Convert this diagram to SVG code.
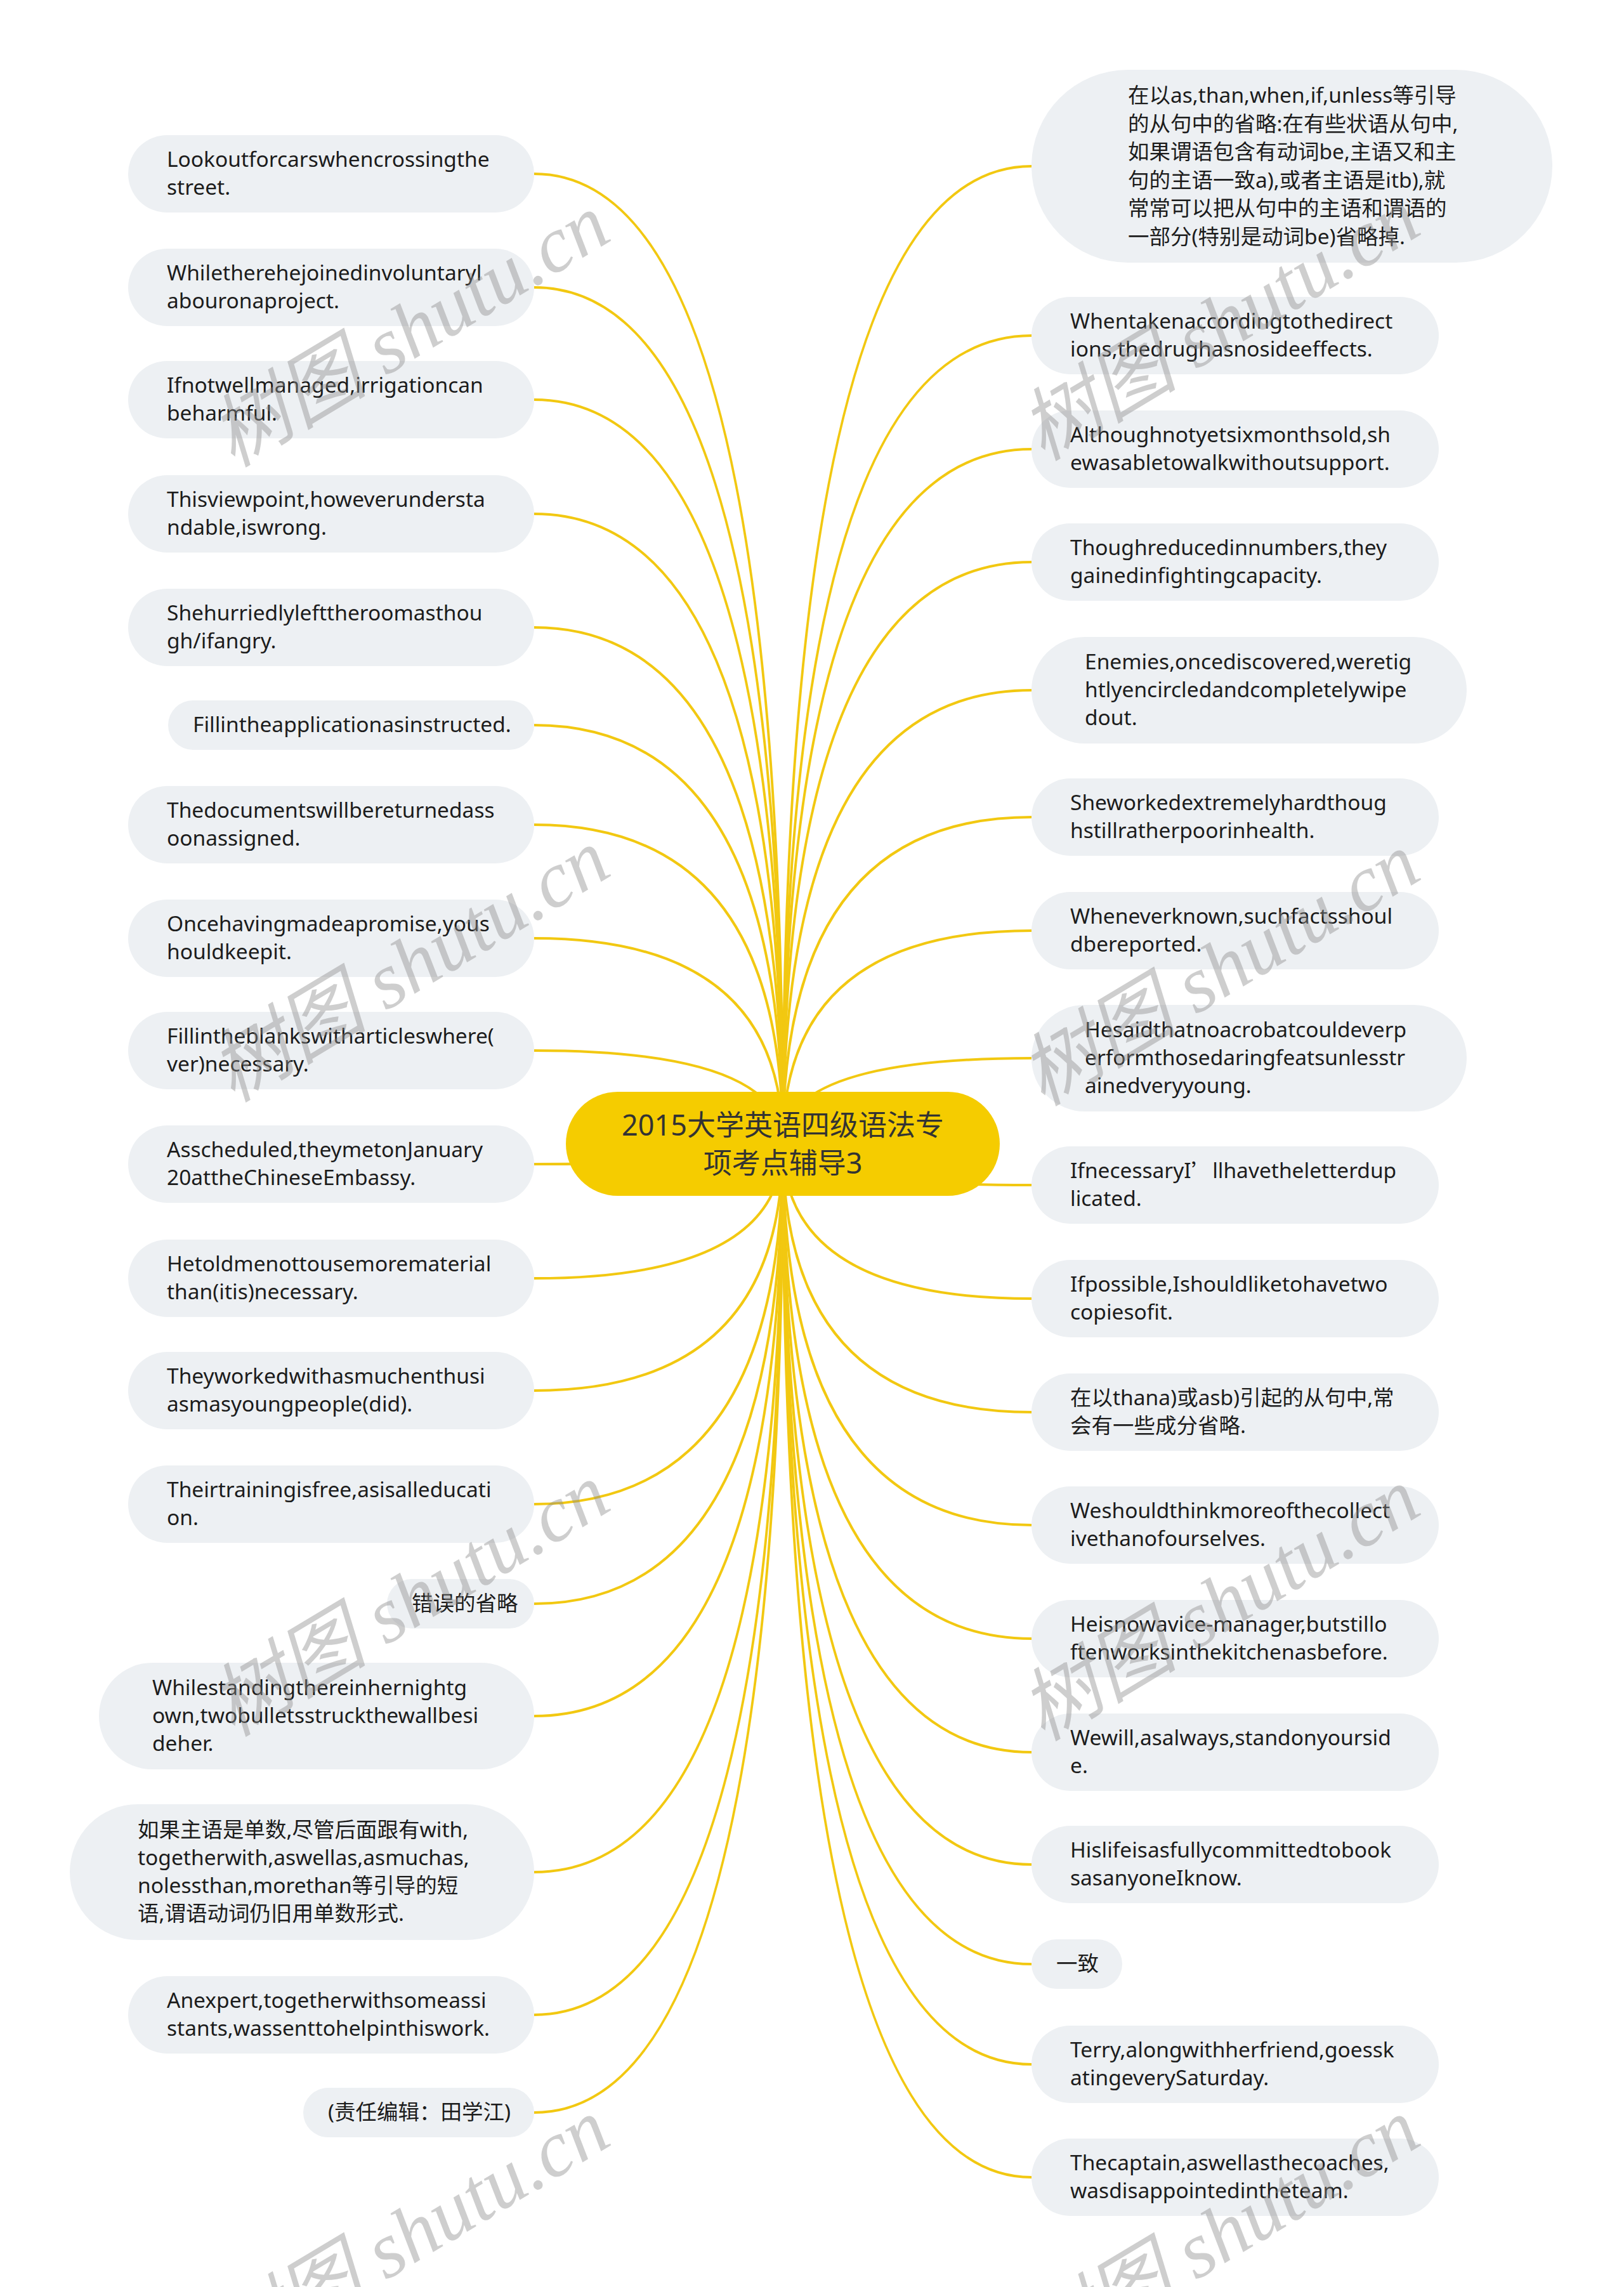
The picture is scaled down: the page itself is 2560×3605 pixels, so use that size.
<svg xmlns="http://www.w3.org/2000/svg" width="2560" height="3605" viewBox="0 0 2560 3605">
<style>
.bg{fill:#ffffff}
.n rect{fill:#EDF0F3}
.n text{font-family:"Noto Sans","Noto Sans CJK SC",sans-serif;font-size:33.5px;fill:#1c1c1c;dominant-baseline:central}
.c{fill:none;stroke:#F2C811;stroke-width:4}
.root rect{fill:#F5CC00}
.root text{font-family:"Noto Sans","Noto Sans CJK SC",sans-serif;font-size:45px;fill:#333333;dominant-baseline:central;text-anchor:middle}
.cjk{font-family:"Noto Sans CJK SC",sans-serif}
.wm{font-family:"Liberation Serif","Noto Sans CJK SC",serif;font-style:italic;font-size:125px;fill:#8c8c8c;opacity:0.42;text-anchor:middle}
</style>
<rect class="bg" x="0" y="0" width="2560" height="3605"/>
<g id="connectors">
<path class="c" d="M1234 1803 Q1234 274 842 274"/>
<path class="c" d="M1234 1803 Q1234 453 842 453"/>
<path class="c" d="M1234 1803 Q1234 630 842 630"/>
<path class="c" d="M1234 1803 Q1234 810 842 810"/>
<path class="c" d="M1234 1803 Q1234 989 842 989"/>
<path class="c" d="M1234 1803 Q1234 1143 842 1143"/>
<path class="c" d="M1234 1803 Q1234 1300 842 1300"/>
<path class="c" d="M1234 1803 Q1234 1479 842 1479"/>
<path class="c" d="M1234 1803 Q1234 1656 842 1656"/>
<path class="c" d="M1234 1803 Q1234 1835 842 1835"/>
<path class="c" d="M1234 1803 Q1234 2015 842 2015"/>
<path class="c" d="M1234 1803 Q1234 2192 842 2192"/>
<path class="c" d="M1234 1803 Q1234 2371 842 2371"/>
<path class="c" d="M1234 1803 Q1234 2528 842 2528"/>
<path class="c" d="M1234 1803 Q1234 2705 842 2705"/>
<path class="c" d="M1234 1803 Q1234 2951 842 2951"/>
<path class="c" d="M1234 1803 Q1234 3176 842 3176"/>
<path class="c" d="M1234 1803 Q1234 3330 842 3330"/>
<path class="c" d="M1234 1803 Q1234 262 1626 262"/>
<path class="c" d="M1234 1803 Q1234 529 1626 529"/>
<path class="c" d="M1234 1803 Q1234 708 1626 708"/>
<path class="c" d="M1234 1803 Q1234 886 1626 886"/>
<path class="c" d="M1234 1803 Q1234 1088 1626 1088"/>
<path class="c" d="M1234 1803 Q1234 1288 1626 1288"/>
<path class="c" d="M1234 1803 Q1234 1467 1626 1467"/>
<path class="c" d="M1234 1803 Q1234 1668 1626 1668"/>
<path class="c" d="M1234 1803 Q1234 1868 1626 1868"/>
<path class="c" d="M1234 1803 Q1234 2047 1626 2047"/>
<path class="c" d="M1234 1803 Q1234 2226 1626 2226"/>
<path class="c" d="M1234 1803 Q1234 2404 1626 2404"/>
<path class="c" d="M1234 1803 Q1234 2583 1626 2583"/>
<path class="c" d="M1234 1803 Q1234 2762 1626 2762"/>
<path class="c" d="M1234 1803 Q1234 2939 1626 2939"/>
<path class="c" d="M1234 1803 Q1234 3096 1626 3096"/>
<path class="c" d="M1234 1803 Q1234 3254 1626 3254"/>
<path class="c" d="M1234 1803 Q1234 3432 1626 3432"/>
</g>
<g id="root" class="root">
<rect x="892" y="1721" width="684" height="164" rx="82"/>
<text x="1234" y="1772">2015大学英语四级语法专</text>
<text x="1234" y="1832">项考点辅导3</text>
</g>
<g id="L1" class="n"><rect x="202" y="213" width="640" height="122" rx="61"/><text x="263" y="250">Lookoutforcarswhencrossingthe</text><text x="263" y="294">street.</text></g>
<g id="L2" class="n"><rect x="202" y="392" width="640" height="122" rx="61"/><text x="263" y="429">Whiletherehejoinedinvoluntaryl</text><text x="263" y="473">abouronaproject.</text></g>
<g id="L3" class="n"><rect x="202" y="569" width="640" height="122" rx="61"/><text x="263" y="606">Ifnotwellmanaged,irrigationcan</text><text x="263" y="650">beharmful.</text></g>
<g id="L4" class="n"><rect x="202" y="749" width="640" height="122" rx="61"/><text x="263" y="786">Thisviewpoint,howeverundersta</text><text x="263" y="830">ndable,iswrong.</text></g>
<g id="L5" class="n"><rect x="202" y="928" width="640" height="122" rx="61"/><text x="263" y="965">Shehurriedlylefttheroomasthou</text><text x="263" y="1009">gh/ifangry.</text></g>
<g id="L6" class="n"><rect x="265" y="1104" width="577" height="78" rx="39"/><text x="304" y="1141">Fillintheapplicationasinstructed.</text></g>
<g id="L7" class="n"><rect x="202" y="1239" width="640" height="122" rx="61"/><text x="263" y="1276">Thedocumentswillbereturnedass</text><text x="263" y="1320">oonassigned.</text></g>
<g id="L8" class="n"><rect x="202" y="1418" width="640" height="122" rx="61"/><text x="263" y="1455">Oncehavingmadeapromise,yous</text><text x="263" y="1499">houldkeepit.</text></g>
<g id="L9" class="n"><rect x="202" y="1595" width="640" height="122" rx="61"/><text x="263" y="1632">Fillintheblankswitharticleswhere(</text><text x="263" y="1676">ver)necessary.</text></g>
<g id="L10" class="n"><rect x="202" y="1774" width="640" height="122" rx="61"/><text x="263" y="1811">Asscheduled,theymetonJanuary</text><text x="263" y="1855">20attheChineseEmbassy.</text></g>
<g id="L11" class="n"><rect x="202" y="1954" width="640" height="122" rx="61"/><text x="263" y="1991">Hetoldmenottousemorematerial</text><text x="263" y="2035">than(itis)necessary.</text></g>
<g id="L12" class="n"><rect x="202" y="2131" width="640" height="122" rx="61"/><text x="263" y="2168">Theyworkedwithasmuchenthusi</text><text x="263" y="2212">asmasyoungpeople(did).</text></g>
<g id="L13" class="n"><rect x="202" y="2310" width="640" height="122" rx="61"/><text x="263" y="2347">Theirtrainingisfree,asisalleducati</text><text x="263" y="2391">on.</text></g>
<g id="L14" class="n"><rect x="610" y="2489" width="232" height="78" rx="39"/><text x="649" y="2526">错误的省略</text></g>
<g id="L15" class="n"><rect x="156" y="2621" width="686" height="168" rx="84"/><text x="240" y="2659">Whilestandingthereinhernightg</text><text x="240" y="2703">own,twobulletsstruckthewallbesi</text><text x="240" y="2747">deher.</text></g>
<g id="L16" class="n"><rect x="110" y="2844" width="732" height="214" rx="107"/><text x="217" y="2883">如果主语是单数,尽管后面跟有with,</text><text x="217" y="2927">togetherwith,aswellas,asmuchas,</text><text x="217" y="2971">nolessthan,morethan等引导的短</text><text x="217" y="3015">语,谓语动词仍旧用单数形式.</text></g>
<g id="L17" class="n"><rect x="202" y="3115" width="640" height="122" rx="61"/><text x="263" y="3152">Anexpert,togetherwithsomeassi</text><text x="263" y="3196">stants,wassenttohelpinthiswork.</text></g>
<g id="L18" class="n"><rect x="478" y="3291" width="364" height="78" rx="39"/><text x="517" y="3328">(责任编辑：田学江)</text></g>
<g id="R1" class="n"><rect x="1626" y="110" width="821" height="304" rx="152"/><text x="1778" y="149">在以as,than,when,if,unless等引导</text><text x="1778" y="194">的从句中的省略:在有些状语从句中,</text><text x="1778" y="238">如果谓语包含有动词be,主语又和主</text><text x="1778" y="283">句的主语一致a),或者主语是itb),就</text><text x="1778" y="327">常常可以把从句中的主语和谓语的</text><text x="1778" y="372">一部分(特别是动词be)省略掉.</text></g>
<g id="R2" class="n"><rect x="1626" y="468" width="642" height="122" rx="61"/><text x="1687" y="505">Whentakenaccordingtothedirect</text><text x="1687" y="549">ions,thedrughasnosideeffects.</text></g>
<g id="R3" class="n"><rect x="1626" y="647" width="642" height="122" rx="61"/><text x="1687" y="684">Althoughnotyetsixmonthsold,sh</text><text x="1687" y="728">ewasabletowalkwithoutsupport.</text></g>
<g id="R4" class="n"><rect x="1626" y="825" width="642" height="122" rx="61"/><text x="1687" y="862">Thoughreducedinnumbers,they</text><text x="1687" y="906">gainedinfightingcapacity.</text></g>
<g id="R5" class="n"><rect x="1626" y="1004" width="686" height="168" rx="84"/><text x="1710" y="1042">Enemies,oncediscovered,weretig</text><text x="1710" y="1086">htlyencircledandcompletelywipe</text><text x="1710" y="1130">dout.</text></g>
<g id="R6" class="n"><rect x="1626" y="1227" width="642" height="122" rx="61"/><text x="1687" y="1264">Sheworkedextremelyhardthoug</text><text x="1687" y="1308">hstillratherpoorinhealth.</text></g>
<g id="R7" class="n"><rect x="1626" y="1406" width="642" height="122" rx="61"/><text x="1687" y="1443">Wheneverknown,suchfactsshoul</text><text x="1687" y="1487">dbereported.</text></g>
<g id="R8" class="n"><rect x="1626" y="1584" width="686" height="168" rx="84"/><text x="1710" y="1622">Hesaidthatnoacrobatcouldeverp</text><text x="1710" y="1666">erformthosedaringfeatsunlesstr</text><text x="1710" y="1710">ainedveryyoung.</text></g>
<g id="R9" class="n"><rect x="1626" y="1807" width="642" height="122" rx="61"/><text x="1687" y="1844">IfnecessaryI<tspan class="cjk">’</tspan>llhavetheletterdup</text><text x="1687" y="1888">licated.</text></g>
<g id="R10" class="n"><rect x="1626" y="1986" width="642" height="122" rx="61"/><text x="1687" y="2023">Ifpossible,Ishouldliketohavetwo</text><text x="1687" y="2067">copiesofit.</text></g>
<g id="R11" class="n"><rect x="1626" y="2165" width="642" height="122" rx="61"/><text x="1687" y="2202">在以thana)或asb)引起的从句中,常</text><text x="1687" y="2246">会有一些成分省略.</text></g>
<g id="R12" class="n"><rect x="1626" y="2343" width="642" height="122" rx="61"/><text x="1687" y="2380">Weshouldthinkmoreofthecollect</text><text x="1687" y="2424">ivethanofourselves.</text></g>
<g id="R13" class="n"><rect x="1626" y="2522" width="642" height="122" rx="61"/><text x="1687" y="2559">Heisnowavice-manager,butstillo</text><text x="1687" y="2603">ftenworksinthekitchenasbefore.</text></g>
<g id="R14" class="n"><rect x="1626" y="2701" width="642" height="122" rx="61"/><text x="1687" y="2738">Wewill,asalways,standonyoursid</text><text x="1687" y="2782">e.</text></g>
<g id="R15" class="n"><rect x="1626" y="2878" width="642" height="122" rx="61"/><text x="1687" y="2915">Hislifeisasfullycommittedtobook</text><text x="1687" y="2959">sasanyoneIknow.</text></g>
<g id="R16" class="n"><rect x="1626" y="3057" width="143" height="78" rx="39"/><text x="1665" y="3094">一致</text></g>
<g id="R17" class="n"><rect x="1626" y="3193" width="642" height="122" rx="61"/><text x="1687" y="3230">Terry,alongwithherfriend,goessk</text><text x="1687" y="3274">atingeverySaturday.</text></g>
<g id="R18" class="n"><rect x="1626" y="3371" width="642" height="122" rx="61"/><text x="1687" y="3408">Thecaptain,aswellasthecoaches,</text><text x="1687" y="3452">wasdisappointedintheteam.</text></g>
<g id="watermarks">
<text class="wm" x="650" y="562" transform="rotate(-31 650 528)">树图 shutu.cn</text>
<text class="wm" x="1927" y="552" transform="rotate(-31 1927 518)">树图 shutu.cn</text>
<text class="wm" x="650" y="1563" transform="rotate(-31 650 1529)">树图 shutu.cn</text>
<text class="wm" x="1927" y="1569" transform="rotate(-31 1927 1535)">树图 shutu.cn</text>
<text class="wm" x="650" y="2563" transform="rotate(-31 650 2529)">树图 shutu.cn</text>
<text class="wm" x="1927" y="2570" transform="rotate(-31 1927 2536)">树图 shutu.cn</text>
<text class="wm" x="650" y="3564" transform="rotate(-31 650 3530)">树图 shutu.cn</text>
<text class="wm" x="1927" y="3564" transform="rotate(-31 1927 3530)">树图 shutu.cn</text>
</g>
</svg>
